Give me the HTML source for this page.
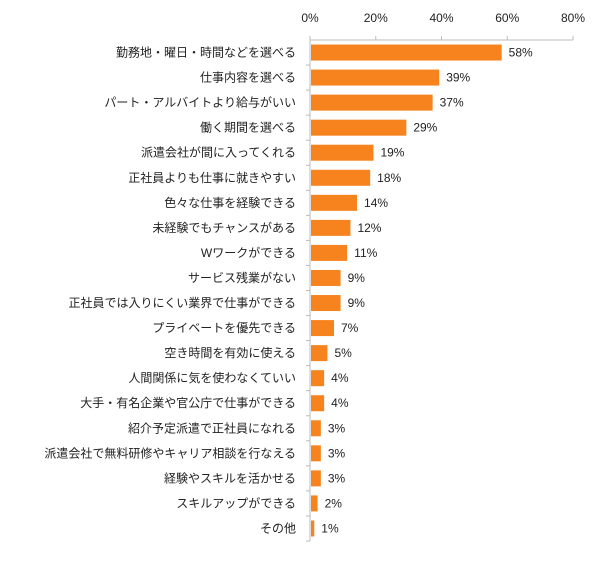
<!DOCTYPE html>
<html><head><meta charset="utf-8"><style>
body{margin:0;background:#fff;}
svg text{font-family:"Liberation Sans","Noto Sans CJK JP",sans-serif;font-size:12px;fill:#222;}
</style></head><body>
<svg id="c" width="609" height="556"></svg>
<script>
const categories=["勤務地・曜日・時間などを選べる","仕事内容を選べる","パート・アルバイトより給与がいい","働く期間を選べる","派遣会社が間に入ってくれる","正社員よりも仕事に就きやすい","色々な仕事を経験できる","未経験でもチャンスがある","Wワークができる","サービス残業がない","正社員では入りにくい業界で仕事ができる","プライベートを優先できる","空き時間を有効に使える","人間関係に気を使わなくていい","大手・有名企業や官公庁で仕事ができる","紹介予定派遣で正社員になれる","派遣会社で無料研修やキャリア相談を行なえる","経験やスキルを活かせる","スキルアップができる","その他"];
const values=[58,39,37,29,19,18,14,12,11,9,9,7,5,4,4,3,3,3,2,1];
const ticks=[0,20,40,60,80];
const NS="http://www.w3.org/2000/svg",svg=document.getElementById('c');
const x0=310,x1=573,y0=40,y1=541,band=(y1-y0)/categories.length;
const x=v=>x0+v/80*(x1-x0);
function mk(t,a,p){const e=document.createElementNS(NS,t);for(const k in a)e.setAttribute(k,a[k]);(p||svg).appendChild(e);return e;}
let ax=mk('line',{x1:x0,y1:y0,x2:x1,y2:y0,stroke:'#bbb'});


let ay=mk('line',{x1:x0,y1:y0,x2:x0,y2:y1,stroke:'#bbb'});


ticks.forEach(t=>{
 mk('line',{x1:x(t),y1:y0-4,x2:x(t),y2:y0,stroke:'#bbb'});
 let tx=mk('text',{x:x(t),y:22,'text-anchor':'middle'});tx.textContent=t+'%';
 
 
});
categories.forEach((c,i)=>{
 const yc=y0+band*(i+0.5);
 mk('line',{x1:x0-4,y1:y0+band*(i+1),x2:x0,y2:y0+band*(i+1),stroke:'#bbb'});
 let r=mk('rect',{x:x0+1,y:yc-8,width:x(values[i])-x0,height:16,fill:'#f7831f'});
 
 
 let l=mk('text',{x:x0-14,y:yc+4,'text-anchor':'end'});l.textContent=c;
 
 
 let v=mk('text',{x:x(values[i])+8,y:yc+4});v.textContent=values[i]+'%';
 
 
});
</script>
</body></html>
